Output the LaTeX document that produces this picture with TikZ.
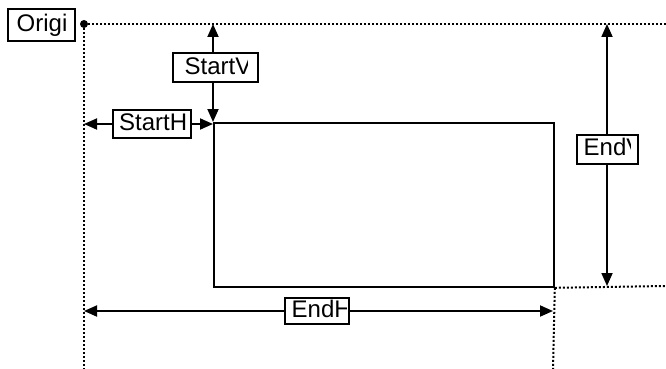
\documentclass[tikz,border=0pt]{standalone}
\usepackage{fontspec}
\setmainfont{Liberation Sans}
\usetikzlibrary{arrows.meta}
\begin{document}
\begin{tikzpicture}[x=1pt,y=-1pt,
  solidline/.style={line width=1.8pt, draw=black},
  dotline/.style={line width=2pt, dash pattern=on 2pt off 2pt, draw=black},
  arr/.style={solidline, -{Triangle[length=13pt,width=11pt]}},
  lbox/.style={draw=black, line width=1.8pt, fill=white, inner sep=0pt},
  ltext/.style={inner sep=0pt, font=\fontsize{24}{28}\selectfont, anchor=base west}
]
\useasboundingbox (0,0) rectangle (666,369);
\fill[white] (0,0) rectangle (666,369);

% key points
\coordinate (O) at (84,24);
\coordinate (topEnd) at (666,24);
\coordinate (leftEnd) at (84,369);
\coordinate (svTop) at (213,24);
\coordinate (shL) at (84,124);
\coordinate (shR) at (213,124);
\coordinate (evTop) at (607,24);
\coordinate (evBot) at (607,286);
\coordinate (ehL) at (84,311);
\coordinate (ehR) at (553,311);
\coordinate (rBotEnd) at (666,286);
\coordinate (rDownEnd) at (553,369);

% main rectangle
\node[solidline, draw, minimum width=340pt, minimum height=164pt, inner sep=0pt, anchor=north west] (rect) at (213,122) {};

% dotted guide lines
\draw[dotline] (O) -- (topEnd);
\draw[dotline] (O) -- (leftEnd);
\draw[dotline] (rect.south east) -- (rBotEnd);
\draw[dotline] (rect.south east) -- (rDownEnd);
\fill (O) circle (4pt);

% label boxes
\node[lbox, minimum width=67pt, minimum height=32pt] (orB) at (41.5,25) {};
\node[lbox, minimum width=85pt, minimum height=29.6pt] (svB) at (215.8,67.5) {};
\node[lbox, minimum width=78pt, minimum height=28pt] (shB) at (152,124) {};
\node[lbox, minimum width=61pt, minimum height=29pt] (evB) at (607.5,149.5) {};
\node[lbox, minimum width=64pt, minimum height=26.7pt] (ehB) at (317,311) {};

% arrows
\draw[arr] (svB.north -| svTop) -- (svTop);
\draw[arr] (svB.south -| svTop) -- (rect.north west);
\draw[arr] (shB.west) -- (shL);
\draw[arr] (shB.east) -- (shR);
\draw[arr] (evB.north -| evTop) -- (evTop);
\draw[arr] (evB.south -| evTop) -- (evBot);
\draw[arr] (ehB.west) -- (ehL);
\draw[arr] (ehB.east) -- (ehR);

% texts (clipped like the original)
\begin{scope}
\clip (orB.south west) rectangle (67.5,9);
\node[ltext] (orT) at (16.5,31.8) {Origin};
\end{scope}
\begin{scope}
\clip (svB.south west) rectangle (247.5,52);
\node[ltext] (svT) at (184.5,74.8) {StartV};
\end{scope}
\node[ltext] (shT) at (119,130.7) {StartH};
\begin{scope}
\clip (evB.south west) rectangle (630,135);
\node[ltext] (evT) at (583.5,155.2) {EndV};
\end{scope}
\begin{scope}
\clip (ehB.south west) rectangle (346.5,297);
\node[ltext] (ehT) at (291.5,317.3) {EndH};
\end{scope}
\end{tikzpicture}
\end{document}
